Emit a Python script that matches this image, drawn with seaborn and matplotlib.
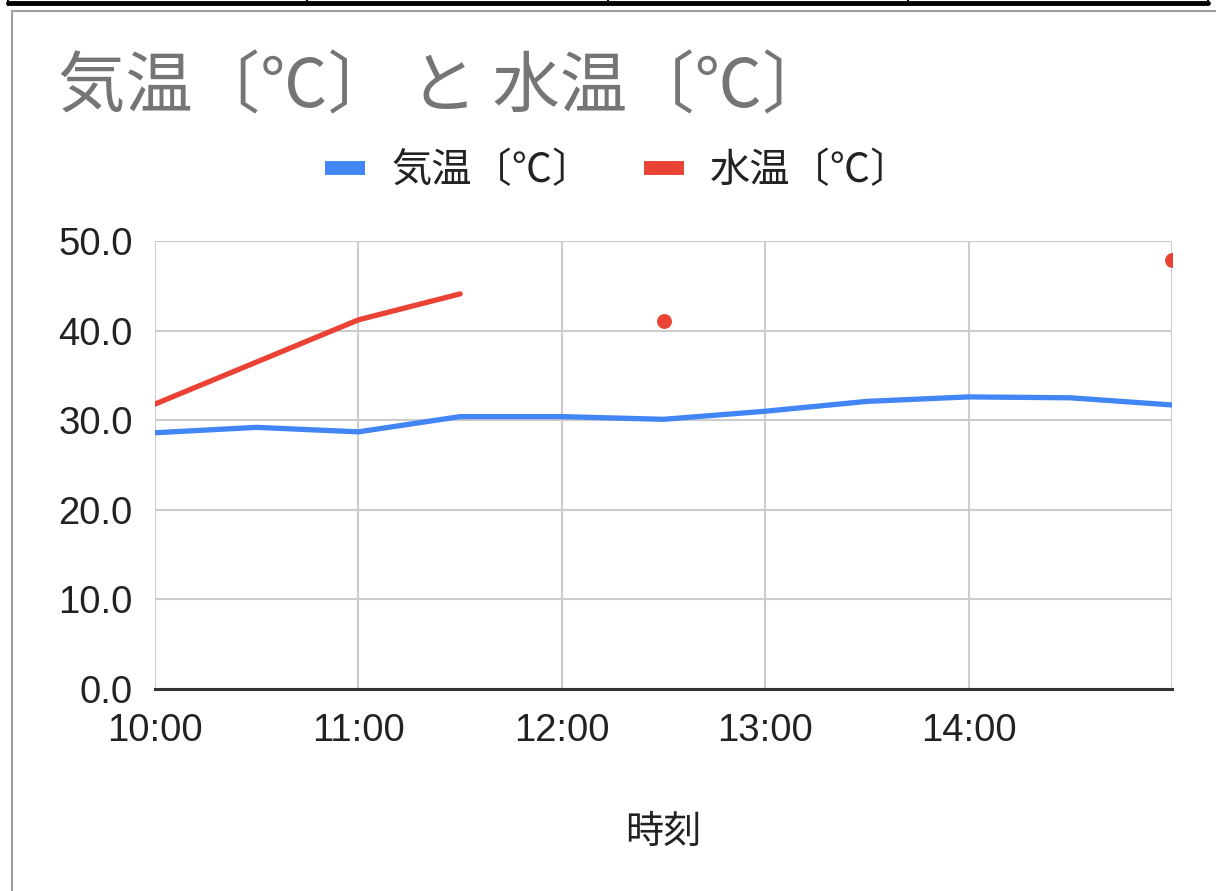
import numpy as np
import pandas as pd
import matplotlib
matplotlib.use("Agg")
import matplotlib.pyplot as plt
from matplotlib.lines import Line2D
import seaborn as sns

# ---- data ----
times = ["10:00", "10:30", "11:00", "11:30", "12:00", "12:30",
         "13:00", "13:30", "14:00", "14:30", "15:00"]
air_temp = [28.6, 29.2, 28.7, 30.4, 30.4, 30.1, 31.0, 32.1, 32.6, 32.5, 31.7]
water_temp = [31.8, 36.5, 41.2, 44.1, np.nan, 41.1, np.nan, np.nan, np.nan, np.nan, 47.9]
tick_labels = ["10:00", "11:00", "12:00", "13:00", "14:00"]
y_ticks = [0, 10, 20, 30, 40, 50]
title = "気温〔℃〕 と 水温〔℃〕"
series_names = ["気温〔℃〕", "水温〔℃〕"]
x_label = "時刻"

BLUE = "#4285F4"
RED = "#EA4335"

def to_hours(t):
    h, m = t.split(":")
    return int(h) + int(m) / 60.0

hours = np.array([to_hours(t) for t in times])
df = pd.DataFrame({"hour": hours, "air": air_temp, "water": water_temp})

sns.set_theme(style="white")
plt.rcParams["font.family"] = ["Noto Sans CJK JP", "DejaVu Sans"]

fig = plt.figure(figsize=(12.16, 8.91), dpi=100)
W, H = 1216, 891
ax = fig.add_axes([155 / W, 1 - 689 / H, (1172 - 155) / W, (689 - 241) / H])

# grid
for v in y_ticks:
    ax.axhline(v, color="#cccccc", lw=1.5, zorder=1)
for hx in range(10, 16):
    ax.axvline(hx, color="#cccccc", lw=1.5, zorder=1)

# air temperature line
sns.lineplot(data=df, x="hour", y="air", ax=ax, color=BLUE, lw=3.8,
             legend=False, zorder=3, solid_joinstyle="round")

# water temperature: connected segments + isolated points
w = df["water"].to_numpy()
valid = ~np.isnan(w)
seg_id = np.cumsum(~valid)
for sid in np.unique(seg_id[valid]):
    seg = df[(seg_id == sid) & valid]
    if len(seg) > 1:
        sns.lineplot(data=seg, x="hour", y="water", ax=ax, color=RED, lw=3.8,
                     legend=False, zorder=4, solid_joinstyle="round")
    else:
        sns.scatterplot(data=seg, x="hour", y="water", ax=ax, color=RED,
                        s=115, linewidth=0, zorder=4, legend=False)

ax.set_xlim(10, 15)
ax.set_ylim(0, 50)
ax.set_xticks(range(10, 15))
ax.set_xticklabels(tick_labels)
ax.set_yticks(y_ticks)
ax.set_yticklabels([f"{v:.1f}" for v in y_ticks])
ax.tick_params(axis="both", length=0, labelsize=27.5, colors="#222222")
ax.tick_params(axis="y", pad=16)
ax.tick_params(axis="x", pad=17)
for lab in ax.get_xticklabels() + ax.get_yticklabels():
    lab.set_family(["Liberation Sans", "DejaVu Sans"])

for s in ["top", "right", "left"]:
    ax.spines[s].set_visible(False)
ax.spines["bottom"].set_color("#333333")
ax.spines["bottom"].set_linewidth(2.2)
ax.spines["bottom"].set_zorder(5)
ax.set_ylabel("")
ax.set_xlabel(x_label, fontsize=27.5, color="#222222", labelpad=46)

# title
fig.text(58 / W, 1 - 88 / H, title, fontsize=48.5, color="#757575",
         ha="left", va="center")

# legend
handles = [Line2D([0], [0], color=BLUE, lw=10, solid_capstyle="butt"),
           Line2D([0], [0], color=RED, lw=10, solid_capstyle="butt")]
fig.legend(handles, series_names, loc="center", bbox_to_anchor=(618 / W, 1 - 171 / H),
           ncol=2, frameon=False, fontsize=29, handlelength=1.0,
           handletextpad=0.65, columnspacing=1.27, labelcolor="#222222")

# surrounding sheet decorations
fig.add_artist(Line2D([8 / W, 1208 / W], [1 - 2.5 / H, 1 - 2.5 / H],
                      transform=fig.transFigure, color="black", lw=3.5))
for xv in [8, 307, 608, 908, 1208]:
    fig.add_artist(Line2D([xv / W, xv / W], [1, 1 - 5 / H],
                          transform=fig.transFigure, color="black", lw=1.5))
fig.add_artist(Line2D([12 / W, 1], [1 - 11 / H, 1 - 11 / H],
                      transform=fig.transFigure, color="#9e9e9e", lw=1.5))
fig.add_artist(Line2D([12 / W, 12 / W], [1 - 11 / H, 0],
                      transform=fig.transFigure, color="#9e9e9e", lw=1.5))

fig.savefig("out.png", dpi=100, facecolor="white")
